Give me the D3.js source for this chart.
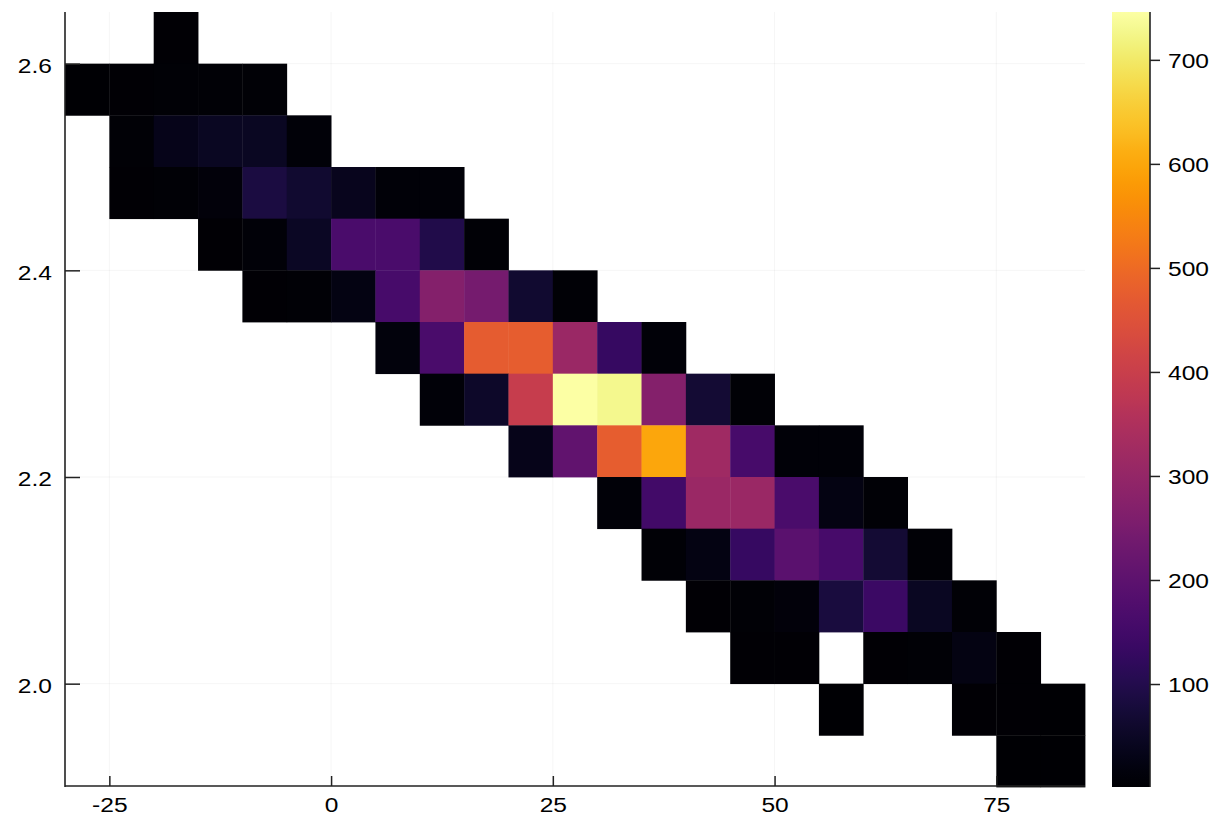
<!DOCTYPE html>
<html>
<head>
<meta charset="utf-8">
<script src="https://cdn.jsdelivr.net/npm/d3@7"></script>
<style>
  html, body { margin: 0; padding: 0; background: #fff; }
  svg { display: block; font-family: "Liberation Sans", Arial, Helvetica, sans-serif; }
</style>
</head>
<body>
<svg id="chart" width="1218" height="820"></svg>
<script>
// ---- data ----
// left edges of the x bins (width 5)
const xBinStarts = [-30,-25,-20,-15,-10,-5,0,5,10,15,20,25,30,35,40,45,50,55,60,65,70,75,80];
// lower edges of the y bins (height 0.05), top row first
const yBinStarts = [2.60,2.55,2.50,2.45,2.40,2.35,2.30,2.25,2.20,2.15,2.10,2.05,2.00,1.95,1.90];
const binWidth = 5;
const binHeight = 0.05;
// counts per cell, rows follow yBinStarts, columns follow xBinStarts (null = empty)
const counts = [
  [null,null,4,null,null,null,null,null,null,null,null,null,null,null,null,null,null,null,null,null,null,null,null],
  [3,6,8,9,7,null,null,null,null,null,null,null,null,null,null,null,null,null,null,null,null,null,null],
  [null,8,35,45,45,10,null,null,null,null,null,null,null,null,null,null,null,null,null,null,null,null,null],
  [null,6,9,14,85,65,40,12,10,null,null,null,null,null,null,null,null,null,null,null,null,null,null],
  [null,null,null,6,10,50,165,165,95,8,null,null,null,null,null,null,null,null,null,null,null,null,null],
  [null,null,null,null,5,9,25,160,270,245,65,8,null,null,null,null,null,null,null,null,null,null,null],
  [null,null,null,null,null,null,null,18,165,470,475,310,130,10,null,null,null,null,null,null,null,null,null],
  [null,null,null,null,null,null,null,null,10,55,395,746,728,270,70,8,null,null,null,null,null,null,null],
  [null,null,null,null,null,null,null,null,null,null,35,205,475,600,320,160,12,10,null,null,null,null,null],
  [null,null,null,null,null,null,null,null,null,null,null,null,10,150,310,310,165,25,8,null,null,null,null],
  [null,null,null,null,null,null,null,null,null,null,null,null,null,7,25,130,195,160,70,9,null,null,null],
  [null,null,null,null,null,null,null,null,null,null,null,null,null,null,6,8,15,80,140,45,7,null,null],
  [null,null,null,null,null,null,null,null,null,null,null,null,null,null,null,5,6,null,5,8,25,4,null],
  [null,null,null,null,null,null,null,null,null,null,null,null,null,null,null,null,null,3,null,null,5,4,3],
  [null,null,null,null,null,null,null,null,null,null,null,null,null,null,null,null,null,null,null,null,null,2,3]
];
const xTicks = [-25, 0, 25, 50, 75];
const xTickLabels = ["-25", "0", "25", "50", "75"];
const yTicks = [2.0, 2.2, 2.4, 2.6];
const yTickLabels = ["2.0", "2.2", "2.4", "2.6"];
const cbTicks = [100, 200, 300, 400, 500, 600, 700];
const cbTickLabels = ["100", "200", "300", "400", "500", "600", "700"];
const xDomain = [-30, 85];
const yDomain = [1.9, 2.65];
const colorDomain = [1, 746];

// ---- layout ----
const svg = d3.select("#chart");
const plot = { left: 65, right: 1085, top: 12, bottom: 787 };
const cb = { left: 1112, right: 1150, top: 12, bottom: 787 };
const stretch = 1.17;   // glyphs in the reference are drawn slightly wide
const fontSize = 21;
const axisColor = "#222";

const x = d3.scaleLinear().domain(xDomain).range([plot.left, plot.right]);
const y = d3.scaleLinear().domain(yDomain).range([plot.bottom, plot.top]);
const color = d3.scaleSequential(d3.interpolateInferno).domain(colorDomain);

// grid
const grid = svg.append("g").attr("stroke", "#000").attr("stroke-opacity", 0.04).attr("stroke-width", 1);
grid.selectAll("line.gx").data(xTicks).join("line")
  .attr("x1", d => x(d)).attr("x2", d => x(d))
  .attr("y1", plot.top).attr("y2", plot.bottom);
grid.selectAll("line.gy").data(yTicks).join("line")
  .attr("y1", d => y(d)).attr("y2", d => y(d))
  .attr("x1", plot.left).attr("x2", plot.right);

// cells
const cells = [];
counts.forEach((row, ri) => row.forEach((v, ci) => {
  if (v !== null) cells.push({ x0: xBinStarts[ci], y0: yBinStarts[ri], v });
}));
svg.append("g").selectAll("rect").data(cells).join("rect")
  .attr("x", d => x(d.x0))
  .attr("y", d => y(d.y0 + binHeight))
  .attr("width", d => x(d.x0 + binWidth) - x(d.x0) + 0.4)
  .attr("height", d => y(d.y0) - y(d.y0 + binHeight) + 0.4)
  .attr("fill", d => color(d.v));

function styleText(g, dy) {
  g.selectAll(".tick text").each(function() {
    const t = d3.select(this);
    const tx = +t.attr("x") || 0;
    t.attr("x", tx / stretch)
     .attr("transform", `scale(${stretch},1)`)
     .attr("font-size", fontSize)
     .attr("fill", "#000")
     .attr("font-family", "Liberation Sans, Arial, sans-serif")
     .attr("dy", dy);
  });
}

// axes
const xAxis = d3.axisBottom(x).tickValues(xTicks).tickSize(-10).tickPadding(13)
  .tickFormat((d, i) => xTickLabels[i]);
const gx = svg.append("g").attr("transform", `translate(0,${plot.bottom - 1})`).call(xAxis);
gx.select(".domain").attr("d", `M${plot.left},0H${plot.right}`).attr("stroke", axisColor).attr("stroke-width", 1.6);
gx.selectAll(".tick line").attr("stroke", axisColor).attr("stroke-width", 1.5);
styleText(gx, "0.62em");

const yAxis = d3.axisLeft(y).tickValues(yTicks).tickSize(-15).tickPadding(13)
  .tickFormat((d, i) => yTickLabels[i]);
const gy = svg.append("g").attr("transform", `translate(${plot.left},0)`).call(yAxis);
gy.select(".domain").attr("d", `M0,${plot.top}V${plot.bottom}`).attr("stroke", axisColor).attr("stroke-width", 1.6);
gy.selectAll(".tick line").attr("stroke", axisColor).attr("stroke-width", 1.5);
styleText(gy, "0.42em");

// colorbar
const defs = svg.append("defs");
const grad = defs.append("linearGradient").attr("id", "cbgrad")
  .attr("x1", 0).attr("y1", 1).attr("x2", 0).attr("y2", 0);
d3.range(0, 1.0001, 0.02).forEach(t => {
  grad.append("stop").attr("offset", t).attr("stop-color", d3.interpolateInferno(t));
});
svg.append("rect")
  .attr("x", cb.left).attr("y", cb.top)
  .attr("width", cb.right - cb.left).attr("height", cb.bottom - cb.top)
  .attr("fill", "url(#cbgrad)");

const cy = d3.scaleLinear().domain(colorDomain).range([cb.bottom, cb.top]);
const cAxis = d3.axisRight(cy).tickValues(cbTicks).tickSize(10).tickPadding(8)
  .tickFormat((d, i) => cbTickLabels[i]);
const gc = svg.append("g").attr("transform", `translate(${cb.right},0)`).call(cAxis);
gc.select(".domain").attr("d", `M0,${cb.top}V${cb.bottom}`).attr("stroke", axisColor).attr("stroke-width", 1.6);
gc.selectAll(".tick line").attr("stroke", axisColor).attr("stroke-width", 1.5);
styleText(gc, "0.36em");
</script>
</body>
</html>
